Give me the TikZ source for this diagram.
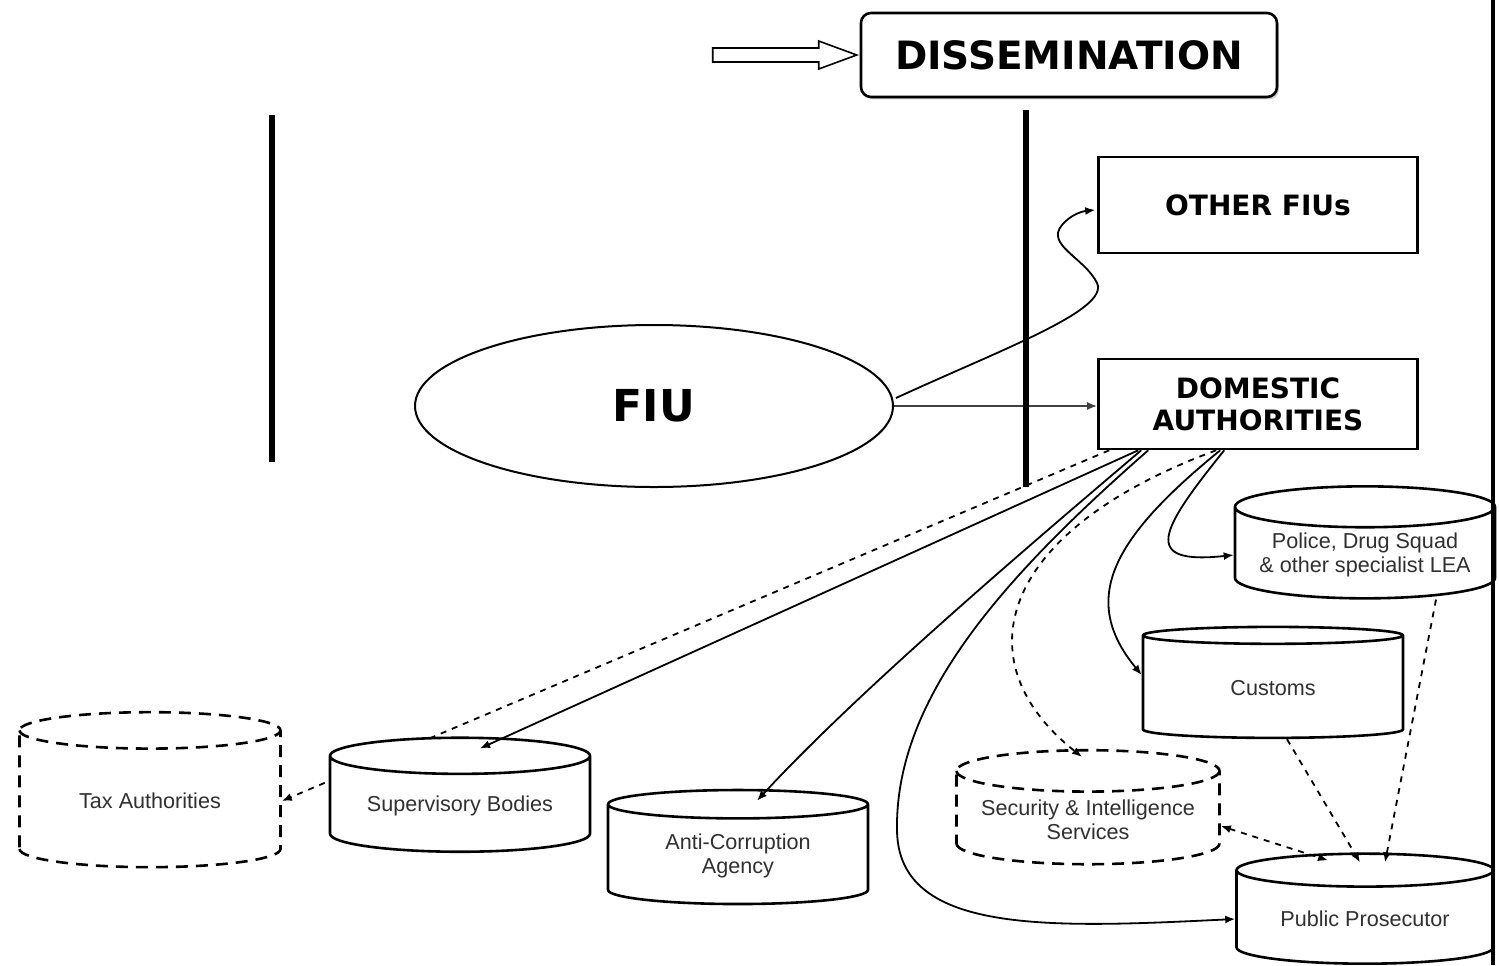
\documentclass[tikz,border=0pt]{standalone}
\usepackage{fontspec}
\setmainfont{DejaVu Sans}
\newfontfamily\lblfont{Liberation Sans}
\usetikzlibrary{arrows.meta,positioning,shapes.geometric,calc,backgrounds,shadows}
\definecolor{ink}{HTML}{000000}
\definecolor{shade}{HTML}{9A9A9A}
\definecolor{lbltext}{HTML}{303030}
\tikzset{
  headbox/.style={draw=ink, line width=1.3pt, fill=white, align=center, font=\bfseries\fontsize{14}{16}\selectfont},
  dissbox/.style={headbox, rounded corners=5pt, minimum width=208pt, minimum height=42pt, font=\bfseries\fontsize{19.5}{22}\selectfont, drop shadow={shadow xshift=1pt, shadow yshift=-1.2pt, fill=shade}},
  fiushape/.style={ellipse, draw=ink, line width=1pt, fill=white, minimum width=239pt, minimum height=81pt, font=\bfseries\fontsize{22}{24}\selectfont},
  agency/.style={cylinder, shape border rotate=90, aspect=0.19, draw=ink, line width=1.3pt, fill=white, minimum width=130pt, minimum height=57pt, inner sep=1pt, align=center, text=lbltext, font=\lblfont\fontsize{10.8}{12}\selectfont},
  ghostagency/.style={agency, dash pattern=on 6pt off 4pt},
  link/.style={-{Latex[length=5pt,width=4pt]}, line width=0.9pt, draw=ink},
  dashlink/.style={link, dash pattern=on 3pt off 3pt},
  bar/.style={line width=2.8pt, draw=ink}
}
\begin{document}
\begin{tikzpicture}[x=0.5pt, y=-0.5pt]
\useasboundingbox (0,0) rectangle (1499,965);
% top of the flow
\node[dissbox] (dis) at (1069,55) {DISSEMINATION};
\coordinate (tip) at ($(dis.west)+(-3,0)$);
\draw[line width=0.8pt, fill=white] (tip) -- ++(-38,-14) -- ++(0,7) -- ++(-106,0) -- ++(0,14) -- ++(106,0) -- ++(0,7) -- cycle;
\node[fiushape] (fiu) at (654,406) {FIU};
\node[headbox, minimum width=159.5pt, minimum height=48pt] (oth) at (1258,205) {OTHER FIUs};
\node[headbox, minimum width=159.5pt, minimum height=45pt] (da) at (1258,404) {DOMESTIC\\AUTHORITIES};
% receiving agencies
\node[ghostagency, aspect=0.25, minimum width=130.5pt, minimum height=77.5pt] (tax) at (150,801) {Tax Authorities};
\node[agency] (sup) at (460,806) {Supervisory Bodies};
\node[agency] (acu) at (738,856) {Anti-Corruption\\Agency};
\node[ghostagency, minimum width=131.5pt] (sec) at (1088,820) {Security \& Intelligence\\Services};
\node[agency, minimum width=128.5pt, minimum height=55pt] (pp) at (1365,919) {Public Prosecutor};
\node[agency, minimum height=55.5pt] (cus) at (1273,688) {Customs};
\node[agency, minimum height=56pt] (pol) at (1365,555) {Police, Drug Squad\\\& other specialist LEA};
% connectors
\begin{scope}[on background layer]
\draw[dashlink] ($(da.south west)+(12,0)$) -- (tax.east);
\end{scope}
\draw[link] ($(fiu.east)+(2,-8)$) .. controls (1000,350) and (1110,310) .. (1097,283) .. controls (1085,258) and (1045,245) .. (1062,225) .. controls (1072,213) and (1085,211) .. ($(oth.west)+(-2,5)$);
\draw[link, draw=ink!75] (fiu.east) -- (fiu.east -| da.west);
\draw[link] ($(da.south west)+(41,0)$) -- ($(sup.north)+(20,12)$);
\draw[link] ($(da.south west)+(44,0)$) .. controls (1000,570) and (850,700) .. ($(acu.north)+(19,12)$);
\draw[link] ($(da.south west)+(51,0)$) .. controls (1000,580) and (895,700) .. (897,830) .. controls (898,935) and (1050,928) .. (pp.west);
\draw[dashlink] ($(da.south west)+(119,0)$) .. controls (1000,530) and (960,660) .. ($(sec.north)+(-6,8)$);
\draw[link] ($(da.south west)+(123,0)$) .. controls (1110,540) and (1080,600) .. ($(cus.west)+(0,-13)$);
\draw[link] ($(da.south west)+(127,0)$) .. controls (1160,530) and (1140,565) .. (pol.west);
\draw[dashlink] ($(cus.south)+(14,0)$) -- ($(pp.north)+(-5,10)$);
\draw[dashlink] ($(pol.south)+(71,0)$) -- ($(pp.north)+(20,10)$);
\draw[dashlink, {Latex[length=5pt,width=4pt]}-{Latex[length=5pt,width=4pt]}] ($(sec.east)+(0,6)$) -- ($(pp.north)+(-37,8)$);
% dividers
\draw[bar] (272,115) -- (272,462);
\draw[bar] (1026,110) -- (1026,487);
\draw[line width=2pt] (1493,0) -- (1493,965);
\end{tikzpicture}
\end{document}
